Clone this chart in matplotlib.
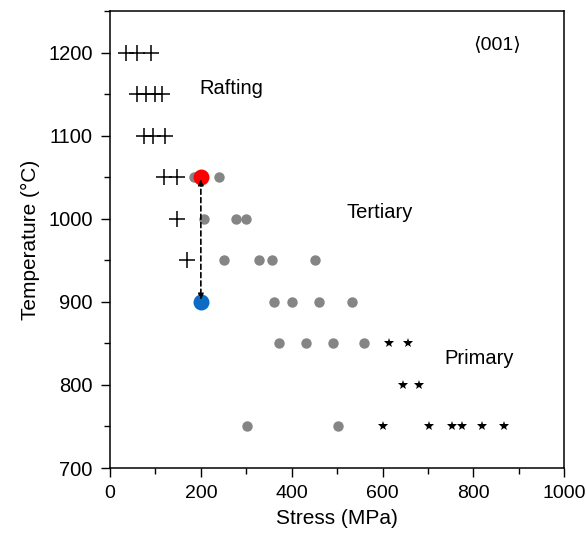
import matplotlib.pyplot as plt
from matplotlib.ticker import MultipleLocator

plt.rcParams['font.family'] = ['Liberation Sans', 'DejaVu Sans']

# Rafting (plus markers)
raft_x = [35, 60, 90, 60, 80, 100, 115, 75, 95, 120, 118, 148, 148, 170]
raft_y = [1200, 1200, 1200, 1150, 1150, 1150, 1150, 1100, 1100, 1100, 1050, 1050, 1000, 950]

# Tertiary (grey dots)
tert_x = [185, 200, 240, 207, 277, 300, 250, 327, 356, 452,
          362, 401, 461, 532, 371, 432, 491, 560, 301, 502]
tert_y = [1050, 1050, 1050, 1000, 1000, 1000, 950, 950, 950, 950,
          900, 900, 900, 900, 850, 850, 850, 850, 750, 750]

# Primary (stars)
prim_x = [615, 656, 644, 680, 600, 702, 753, 775, 818, 868]
prim_y = [850, 850, 800, 800, 750, 750, 750, 750, 750, 750]

# highlighted test conditions
start_pt = (200, 1050)
end_pt = (200, 900)

fig = plt.figure(figsize=(5.86, 5.47), dpi=100)
ax = fig.add_axes([0.1877, 0.1444, 0.7753, 0.8355])

ax.plot(raft_x, raft_y, '+', color='black', markersize=11, markeredgewidth=1.1, linestyle='none')
ax.plot(tert_x, tert_y, 'o', color='#858585', markersize=7.5, markeredgewidth=0, linestyle='none')
ax.plot(prim_x, prim_y, '*', color='black', markersize=7.5, markeredgewidth=0, linestyle='none')

ax.plot(*start_pt, 'o', color='#ff0000', markersize=11.5, markeredgewidth=0, zorder=4)
ax.plot(*end_pt, 'o', color='#0a6cc4', markersize=11.5, markeredgewidth=0, zorder=4)
ax.annotate('', xy=(end_pt[0], end_pt[1] + 2), xytext=(start_pt[0], start_pt[1] - 2),
            arrowprops=dict(arrowstyle='<|-|>,head_length=0.35,head_width=0.15',
                            color='black', linestyle=(0, (3, 2)), lw=1.2,
                            shrinkA=0, shrinkB=0),
            zorder=5)

ax.text(197, 1157, 'Rafting', fontsize=14.5, ha='left', va='center')
ax.text(520, 1007, 'Tertiary', fontsize=14.5, ha='left', va='center')
ax.text(737, 832, 'Primary', fontsize=14.5, ha='left', va='center')
ax.text(852, 1210, '\u27e8001\u27e9', fontsize=14, ha='center', va='center')

ax.set_xlim(0, 1000)
ax.set_ylim(700, 1250)
ax.xaxis.set_major_locator(MultipleLocator(200))
ax.xaxis.set_minor_locator(MultipleLocator(100))
ax.yaxis.set_major_locator(MultipleLocator(100))
ax.yaxis.set_minor_locator(MultipleLocator(50))
ax.set_yticks([700, 800, 900, 1000, 1100, 1200])
ax.tick_params(which='major', length=6.5, width=1, labelsize=14.5, pad=6)
ax.tick_params(axis='x', which='major', labelsize=14)
ax.tick_params(which='minor', length=4, width=1)

ax.set_xlabel('Stress (MPa)', fontsize=15, labelpad=5)
ax.set_ylabel('Temperature (\u00b0C)', fontsize=15, labelpad=6)

for s in ax.spines.values():
    s.set_linewidth(1.1)

fig.savefig('out.png', dpi=100)
